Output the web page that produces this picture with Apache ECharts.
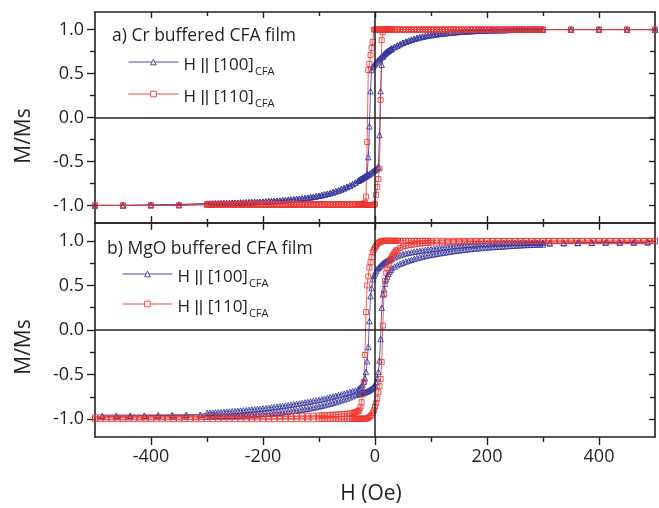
<!DOCTYPE html>
<html><head><meta charset="utf-8">
<script src="https://cdn.jsdelivr.net/npm/echarts@6/dist/echarts.min.js"></script>
<style>html,body{margin:0;padding:0;background:#fff}#c{width:659px;height:508px}</style>
</head><body><div id="c"></div>
<script>
// ---------- tick values ----------
const xMajorTicks = [-400, -200, 0, 200, 400];
const xMinorTicks = [-300, -100, 100, 300];
const yMajorTicks = [-1, -0.5, 0, 0.5, 1];
const yMinorTicks = [-0.75, -0.25, 0.25, 0.75];

// ---------- text ----------
const panelTitles = ['a) Cr buffered CFA film', 'b) MgO buffered CFA film'];
const legendMain = ['H || [100]', 'H || [110]'];
const legendSub = 'CFA';
const yTitle = 'M/Ms';
const xTitle = 'H (Oe)';

// ---------- panel a: Cr buffered (field sweep, Oe) ----------
const fieldCr = [500,450,400,350,
300,295,290,285,280,275,270,265,260,255,
250,245,240,235,230,225,220,215,210,205,
200,195,190,185,180,175,170,165,160,155,
150,145,140,135,130,125,120,115,110,105,
100,95,90,85,80,75,70,65,60,55,
50,45,40,35,30,
28,26,24,22,20,18,16,14,12,10,
8,6,4,2,0,-2,-4,-6,-8,-10,
-12,-14,-16,-18,-20,-22,-24,-26,-28,-30,
-35,-40,-45,-50,-55,-60,-65,-70,-75,-80,
-85,-90,-95,-100,-105,-110,-115,-120,-125,-130,
-135,-140,-145,-150,-155,-160,-165,-170,-175,-180,
-185,-190,-195,-200,-205,-210,-215,-220,-225,-230,
-235,-240,-245,-250,-255,-260,-265,-270,-275,-280,
-285,-290,-295,-300,
-350,-400,-450,-500];

// H || [100], descending sweep (M/Ms at each fieldCr value)
const cr100Down = [1,1,1,1,
1,1,1,1,1,1,1,1,1,1,
1,0.998,0.997,0.996,0.995,0.995,0.994,0.994,0.993,0.993,
0.992,0.99,0.988,0.987,0.986,0.984,0.983,0.981,0.979,0.977,
0.975,0.972,0.969,0.966,0.963,0.96,0.956,0.952,0.948,0.943,
0.938,0.933,0.927,0.92,0.912,0.904,0.895,0.885,0.874,0.862,
0.849,0.835,0.82,0.803,0.785,
0.777,0.769,0.76,0.75,0.74,0.729,0.718,0.706,0.694,0.681,
0.668,0.654,0.64,0.625,0.61,0.594,0.575,0.54,0.3,-0.1,
-0.45,-0.64,-0.664,-0.672,-0.68,-0.688,-0.696,-0.704,-0.712,-0.72,
-0.74,-0.758,-0.775,-0.79,-0.804,-0.817,-0.829,-0.84,-0.85,-0.859,
-0.868,-0.876,-0.883,-0.89,-0.896,-0.902,-0.907,-0.912,-0.916,-0.92,
-0.924,-0.928,-0.931,-0.934,-0.937,-0.94,-0.942,-0.945,-0.947,-0.949,
-0.951,-0.953,-0.955,-0.957,-0.958,-0.96,-0.961,-0.963,-0.964,-0.965,
-0.967,-0.968,-0.969,-0.97,-0.971,-0.972,-0.973,-0.974,-0.975,-0.976,
-0.977,-0.978,-0.979,-0.98,
-0.99,-0.995,-1,-1];

// H || [100], ascending sweep (M/Ms at each fieldCr value)
const cr100Up = [1,1,1,1,
1,1,1,1,1,1,1,1,1,1,
1,0.998,0.997,0.996,0.995,0.995,0.994,0.994,0.993,0.993,
0.992,0.99,0.988,0.987,0.986,0.984,0.983,0.981,0.979,0.977,
0.975,0.972,0.969,0.966,0.963,0.96,0.956,0.952,0.948,0.943,
0.938,0.933,0.927,0.92,0.912,0.904,0.895,0.885,0.874,0.862,
0.849,0.835,0.82,0.803,0.785,
0.777,0.769,0.76,0.75,0.74,0.729,0.716,0.69,0.6,0.3,
-0.2,-0.56,-0.575,-0.585,-0.595,-0.605,-0.615,-0.625,-0.635,-0.645,
-0.652,-0.658,-0.664,-0.672,-0.68,-0.688,-0.696,-0.704,-0.712,-0.72,
-0.74,-0.758,-0.775,-0.79,-0.804,-0.817,-0.829,-0.84,-0.85,-0.859,
-0.868,-0.876,-0.883,-0.89,-0.896,-0.902,-0.907,-0.912,-0.916,-0.92,
-0.924,-0.928,-0.931,-0.934,-0.937,-0.94,-0.942,-0.945,-0.947,-0.949,
-0.951,-0.953,-0.955,-0.957,-0.958,-0.96,-0.961,-0.963,-0.964,-0.965,
-0.967,-0.968,-0.969,-0.97,-0.971,-0.972,-0.973,-0.974,-0.975,-0.976,
-0.977,-0.978,-0.979,-0.98,
-0.99,-0.995,-1,-1];

// H || [110], descending sweep
const cr110Down = [1,1,1,1,
1,1,1,1,1,1,1,1,1,1,
1,1,1,1,1,1,1,1,1,1,
1,1,1,1,1,1,1,1,1,1,
1,1,1,1,1,1,1,1,1,1,
1,1,1,1,1,1,1,1,1,1,
1,1,1,1,1,
1,1,1,1,1,1,1,1,1,1,
1,1,1,1,1,1,0.86,0.79,0.71,0.61,
0.54,-0.28,-0.9,-0.97,-0.98,-0.985,-0.985,-0.985,-0.985,-0.985,
-0.985,-0.985,-0.985,-0.985,-0.985,-0.985,-0.985,-0.985,-0.985,-0.985,
-0.985,-0.985,-0.985,-0.985,-0.985,-0.985,-0.985,-0.985,-0.985,-0.985,
-0.985,-0.985,-0.985,-0.985,-0.985,-0.985,-0.985,-0.985,-0.985,-0.985,
-0.985,-0.985,-0.985,-0.985,-0.985,-0.985,-0.985,-0.985,-0.985,-0.985,
-0.985,-0.985,-0.985,-0.985,-0.985,-0.985,-0.985,-0.985,-0.985,-0.985,
-0.985,-0.985,-0.985,-0.985,
-1,-1,-1,-1];

// H || [110], ascending sweep
const cr110Up = [1,1,1,1,
1,1,1,1,1,1,1,1,1,1,
1,1,1,1,1,1,1,1,1,1,
1,1,1,1,1,1,1,1,1,1,
1,1,1,1,1,1,1,1,1,1,
1,1,1,1,1,1,1,1,1,1,
1,1,1,1,1,
1,1,1,1,1,1,1,0.97,0.88,0.2,
-0.58,-0.7,-0.79,-0.88,-0.98,-0.995,-0.995,-0.995,-0.995,-0.995,
-0.995,-0.995,-0.995,-0.995,-0.995,-0.995,-0.995,-0.995,-0.995,-0.995,
-0.995,-0.995,-0.995,-0.995,-0.995,-0.995,-0.995,-0.995,-0.995,-0.995,
-0.995,-0.995,-0.995,-0.995,-0.995,-0.995,-0.995,-0.995,-0.995,-0.995,
-0.995,-0.995,-0.995,-0.995,-0.995,-0.995,-0.995,-0.995,-0.995,-0.995,
-0.995,-0.995,-0.995,-0.995,-0.995,-0.995,-0.995,-0.995,-0.995,-0.995,
-0.995,-0.995,-0.995,-0.995,-0.995,-0.995,-0.995,-0.995,-0.995,-0.995,
-0.995,-0.995,-0.995,-0.995,
-1,-1,-1,-1];

// ---------- panel b: MgO buffered ----------
const fieldMgO100 = [487,462,437,412,387,362,337,312,
300,295,290,285,280,275,270,265,260,255,
250,245,240,235,230,225,220,215,210,205,
200,195,190,185,180,175,170,165,160,155,
150,145,140,135,130,125,120,115,110,105,
100,95,90,85,80,75,70,65,60,55,
50,45,40,35,30,
28,26,24,22,20,18,16,14,12,10,
8,6,4,2,0,-2,-4,-6,-8,-10,
-12,-14,-16,-18,-20,-22,-24,-26,-28,-30,
-35,-40,-45,-50,-55,-60,-65,-70,-75,-80,
-85,-90,-95,-100,-105,-110,-115,-120,-125,-130,
-135,-140,-145,-150,-155,-160,-165,-170,-175,-180,
-185,-190,-195,-200,-205,-210,-215,-220,-225,-230,
-235,-240,-245,-250,-255,-260,-265,-270,-275,-280,
-285,-290,-295,-300,
-312,-337,-362,-387,-412,-437,-462,-487];

const mgo100Down = [0.984,0.983,0.982,0.981,0.979,0.977,0.975,0.973,
0.98,0.98,0.98,0.979,0.979,0.979,0.978,0.978,0.978,0.977,
0.977,0.977,0.976,0.976,0.975,0.975,0.974,0.973,0.972,0.971,
0.97,0.968,0.966,0.964,0.962,0.96,0.958,0.955,0.953,0.95,
0.947,0.943,0.939,0.935,0.931,0.927,0.923,0.919,0.915,0.911,
0.907,0.903,0.898,0.893,0.888,0.883,0.878,0.872,0.866,0.859,
0.85,0.84,0.828,0.815,0.8,
0.795,0.79,0.784,0.778,0.772,0.765,0.755,0.745,0.735,0.722,
0.71,0.697,0.682,0.66,0.635,0.61,0.57,0.47,0.38,0.1,
-0.19,-0.35,-0.47,-0.54,-0.58,-0.61,-0.63,-0.645,-0.655,-0.665,
-0.675,-0.685,-0.695,-0.704,-0.713,-0.722,-0.73,-0.738,-0.746,-0.754,
-0.762,-0.769,-0.776,-0.783,-0.789,-0.795,-0.801,-0.807,-0.812,-0.818,
-0.823,-0.828,-0.833,-0.838,-0.843,-0.847,-0.852,-0.856,-0.86,-0.864,
-0.868,-0.872,-0.876,-0.879,-0.883,-0.886,-0.889,-0.892,-0.895,-0.898,
-0.901,-0.904,-0.906,-0.909,-0.911,-0.914,-0.916,-0.918,-0.92,-0.922,
-0.924,-0.926,-0.928,-0.93,
-0.952,-0.955,-0.957,-0.959,-0.961,-0.963,-0.964,-0.965];

const mgo100Up = [0.984,0.983,0.982,0.981,0.979,0.977,0.975,0.973,
0.96,0.959,0.958,0.957,0.956,0.955,0.954,0.952,0.951,0.949,
0.947,0.945,0.943,0.941,0.939,0.937,0.935,0.933,0.931,0.929,
0.927,0.924,0.921,0.918,0.915,0.912,0.909,0.905,0.901,0.897,
0.893,0.889,0.885,0.88,0.875,0.87,0.865,0.86,0.855,0.849,
0.843,0.837,0.83,0.823,0.815,0.807,0.798,0.788,0.778,0.767,
0.755,0.742,0.728,0.712,0.695,
0.675,0.655,0.63,0.6,0.57,0.52,0.46,0.4,0.25,-0.1,
-0.34,-0.47,-0.54,-0.585,-0.62,-0.635,-0.648,-0.658,-0.667,-0.675,
-0.682,-0.688,-0.693,-0.698,-0.702,-0.706,-0.71,-0.714,-0.718,-0.722,
-0.728,-0.742,-0.755,-0.767,-0.778,-0.789,-0.799,-0.808,-0.817,-0.826,
-0.834,-0.842,-0.85,-0.857,-0.864,-0.87,-0.876,-0.882,-0.887,-0.892,
-0.897,-0.902,-0.906,-0.91,-0.914,-0.918,-0.922,-0.925,-0.928,-0.931,
-0.934,-0.937,-0.939,-0.942,-0.944,-0.946,-0.948,-0.95,-0.952,-0.954,
-0.955,-0.957,-0.958,-0.96,-0.961,-0.962,-0.963,-0.964,-0.965,-0.966,
-0.967,-0.968,-0.969,-0.97,
-0.952,-0.955,-0.957,-0.959,-0.961,-0.963,-0.964,-0.965];

const fieldMgO110 = [500,490,480,470,460,450,440,430,420,410,
400,390,380,370,360,350,340,330,320,310,
300,290,280,270,260,250,240,230,220,210,
200,190,180,170,160,150,140,130,120,110,
100,95,90,85,80,75,70,65,60,55,50,45,
40,38,36,34,32,30,28,26,24,22,20,18,16,14,12,
10,8,6,4,2,0,-2,-4,-6,-8,-10,-12,-14,-16,-18,-20,-22,-24,-26,-28,-30,-32,-34,-36,-38,-40,
-45,-50,-55,-60,-65,-70,-75,-80,-85,-90,-95,-100,
-110,-120,-130,-140,-150,-160,-170,-180,-190,-200,
-210,-220,-230,-240,-250,-260,-270,-280,-290,-300,
-310,-320,-330,-340,-350,-360,-370,-380,-390,-400,
-410,-420,-430,-440,-450,-460,-470,-480,-490,-500];

const mgo110Down = [1,1,1,1,1,1,1,1,1,1,
1,1,1,1,1,1,1,1,1,1,
1,1,1,1,1,1,1,1,1,1,
1,1,1,1,1,1,1,1,1,1,
1,1,1,1,1,1,1,1,1,1,1,1,
1,1,1,1,1,1,1,1,1,1,1,1,1,1,0.995,
0.99,0.985,0.975,0.96,0.945,0.925,0.9,0.87,0.82,0.76,0.7,0.6,0.5,0.2,-0.28,-0.58,-0.72,-0.81,-0.87,-0.9,-0.91,-0.915,-0.92,-0.925,-0.928,-0.93,
-0.935,-0.938,-0.941,-0.944,-0.946,-0.948,-0.95,-0.952,-0.954,-0.956,-0.957,-0.958,
-0.96,-0.961,-0.962,-0.963,-0.964,-0.965,-0.966,-0.967,-0.968,-0.969,
-0.97,-0.971,-0.972,-0.972,-0.973,-0.974,-0.974,-0.975,-0.975,-0.976,
-0.976,-0.977,-0.977,-0.977,-0.978,-0.978,-0.978,-0.979,-0.979,-0.979,
-0.98,-0.98,-0.98,-0.98,-0.98,-0.98,-0.98,-0.98,-0.98,-0.98];

const mgo110Up = [0.995,0.995,0.995,0.995,0.995,0.995,0.995,0.995,0.995,0.995,
0.995,0.995,0.995,0.995,0.995,0.995,0.995,0.995,0.995,0.995,
0.995,0.995,0.995,0.995,0.995,0.995,0.995,0.995,0.995,0.995,
0.995,0.993,0.992,0.991,0.99,0.989,0.987,0.985,0.983,0.981,
0.98,0.978,0.975,0.972,0.968,0.964,0.96,0.955,0.95,0.943,0.935,0.92,
0.9,0.89,0.875,0.86,0.84,0.82,0.8,0.77,0.73,0.69,0.64,0.55,0.4,0.05,-0.36,
-0.55,-0.63,-0.7,-0.77,-0.82,-0.86,-0.9,-0.93,-0.95,-0.965,-0.975,-0.985,-0.99,-0.995,-0.995,-0.995,-0.995,-0.995,-0.995,-0.995,-0.995,-0.995,-0.995,-0.995,-0.995,-0.995,
-0.997,-0.997,-0.997,-0.997,-0.997,-0.997,-0.997,-0.997,-0.997,-0.997,-0.997,-0.997,
-1,-1,-1,-1,-1,-1,-1,-1,-1,-1,
-1,-1,-1,-1,-1,-1,-1,-1,-1,-1,
-1,-1,-1,-1,-1,-1,-1,-1,-1,-1,
-1,-1,-1,-1,-1,-1,-1,-1,-1,-1];

// ---------- build loops (descending sweep, then ascending sweep back) ----------
function loop(field, down, up) {
  const d = field.map((h, i) => [h, down[i]]);
  const u = field.map((h, i) => [h, up[i]]).reverse();
  return d.concat(u);
}

const BLUE = '#36369c';
const RED = '#ee3530';
const INK = '#231f20';
const FONT = "'Open Sans', 'Noto Sans', sans-serif";

const G_TOP = {left: 95, right: 4, top: 12, height: 211};
const G_BOT = {left: 95, right: 4, top: 223, height: 214};

function xA(grid, pos, ticks, len, inside, line, labels) {
  return {
    type: 'value', gridIndex: grid, position: pos, min: -500, max: 500,
    axisLine: {show: line, onZero: false, lineStyle: {color: INK, width: 1.6}},
    axisTick: {show: true, inside: inside, length: len, customValues: ticks, lineStyle: {color: INK, width: 1.4}},
    axisLabel: labels ? {show: true, customValues: xMajorTicks, margin: 11, fontSize: 18, fontFamily: FONT, color: INK} : {show: false},
    splitLine: {show: false}
  };
}
function yA(grid, pos, ticks, len, inside, line, labels) {
  return {
    type: 'value', gridIndex: grid, position: pos, min: -1.2, max: 1.2,
    axisLine: {show: line, onZero: false, lineStyle: {color: INK, width: 1.6}},
    axisTick: {show: true, inside: inside, length: len, customValues: ticks, lineStyle: {color: INK, width: 1.4}},
    axisLabel: labels ? {show: true, customValues: yMajorTicks, margin: 11, fontSize: 18, fontFamily: FONT, color: INK,
      formatter: v => v.toFixed(1)} : {show: false},
    splitLine: {show: false}
  };
}

const zeroLines = {
  silent: true, symbol: ['none', 'none'], animation: false,
  label: {show: false}, emphasis: {disabled: true},
  lineStyle: {color: INK, width: 1.5, type: 'solid'},
  data: [{yAxis: 0}, {xAxis: 0}]
};

function ser(name, xi, yi, data, sym, color, size, withZero) {
  const s = {
    name: name, type: 'line', xAxisIndex: xi, yAxisIndex: yi, data: data,
    symbol: sym, symbolSize: size, showAllSymbol: true, animation: false,
    lineStyle: {color: color, width: 0.8},
    itemStyle: {color: 'rgba(255,255,255,0)', borderColor: color, borderWidth: 0.85},
    emphasis: {disabled: true}, z: 3
  };
  if (withZero) s.markLine = zeroLines;
  return s;
}

const legendText = {a100: legendMain[0], a110: legendMain[1], b100: legendMain[0], b110: legendMain[1]};
function lg(name, left, top) {
  return {
    data: [name], left: left, top: top, padding: 0, itemWidth: 50, itemHeight: 7,
    selectedMode: false,
    itemStyle: {color: '#fff', borderWidth: 0.9},
    lineStyle: {width: 0.9},
    formatter: n => {
      const p = legendText[n].split('||');
      return '{m|' + p[0] + '}{b|||}{m|' + p[1] + '}{s|' + legendSub + '}';
    },
    textStyle: {color: INK, fontFamily: FONT, rich: {
      m: {fontSize: 17, fontFamily: FONT, color: INK, padding: [7, 0, 0, 0]},
      b: {fontSize: 17, fontFamily: "'Liberation Sans', Arial, sans-serif", color: INK, padding: [7, 0, 0, 0]},
      s: {fontSize: 11, fontFamily: FONT, color: INK, padding: [19, 0, 0, 1]}
    }}
  };
}

const option = {
  animation: false,
  backgroundColor: '#fff',
  grid: [G_TOP, G_BOT, G_TOP, G_BOT],
  xAxis: [
    xA(0, 'bottom', xMajorTicks, 7, true, true, false),
    xA(0, 'top', xMajorTicks, 6, true, true, false),
    xA(1, 'bottom', xMajorTicks, 8, false, true, true),
    xA(1, 'top', xMajorTicks, 7, true, true, false),
    xA(2, 'bottom', xMinorTicks, 4, true, false, false),
    xA(2, 'top', xMinorTicks, 4, true, false, false),
    xA(3, 'bottom', xMinorTicks, 5, false, false, false),
    xA(3, 'top', xMinorTicks, 4, true, false, false)
  ],
  yAxis: [
    yA(0, 'left', yMajorTicks, 8, false, true, true),
    yA(0, 'right', yMajorTicks, 6, true, true, false),
    yA(1, 'left', yMajorTicks, 8, false, true, true),
    yA(1, 'right', yMajorTicks, 6, true, true, false),
    yA(2, 'left', yMinorTicks, 5, false, false, false),
    yA(2, 'right', yMinorTicks, 5, true, false, false),
    yA(3, 'left', yMinorTicks, 5, false, false, false),
    yA(3, 'right', yMinorTicks, 5, true, false, false)
  ],
  legend: [lg('a100', 128, 57), lg('a110', 128, 89), lg('b100', 122, 269), lg('b110', 122, 299)],
  series: [
    ser('a100', 0, 0, loop(fieldCr, cr100Down, cr100Up), 'triangle', BLUE, 5.5, true),
    ser('a110', 0, 0, loop(fieldCr, cr110Down, cr110Up), 'rect', RED, 5, false),
    ser('b100', 2, 2, loop(fieldMgO100, mgo100Down, mgo100Up), 'triangle', BLUE, 5.5, true),
    ser('b110', 2, 2, loop(fieldMgO110, mgo110Down, mgo110Up), 'rect', RED, 5, false)
  ],
  graphic: [
    {type: 'text', x: 112, y: 36, style: {text: panelTitles[0], font: '17.5px ' + FONT, fill: INK, align: 'left', verticalAlign: 'middle'}},
    {type: 'text', x: 107, y: 249, style: {text: panelTitles[1], font: '17.5px ' + FONT, fill: INK, align: 'left', verticalAlign: 'middle'}},
    {type: 'text', x: 24, y: 136, rotation: Math.PI / 2, style: {text: yTitle, font: '21px ' + FONT, fill: INK, align: 'center', verticalAlign: 'middle'}},
    {type: 'text', x: 24, y: 347, rotation: Math.PI / 2, style: {text: yTitle, font: '21px ' + FONT, fill: INK, align: 'center', verticalAlign: 'middle'}},
    {type: 'text', x: 371, y: 494, style: {text: xTitle, font: '21px ' + FONT, fill: INK, align: 'center', verticalAlign: 'middle'}}
  ]
};

const chart = echarts.init(document.getElementById('c'), null, {renderer: 'canvas'});
chart.setOption(option);
</script></body></html>
